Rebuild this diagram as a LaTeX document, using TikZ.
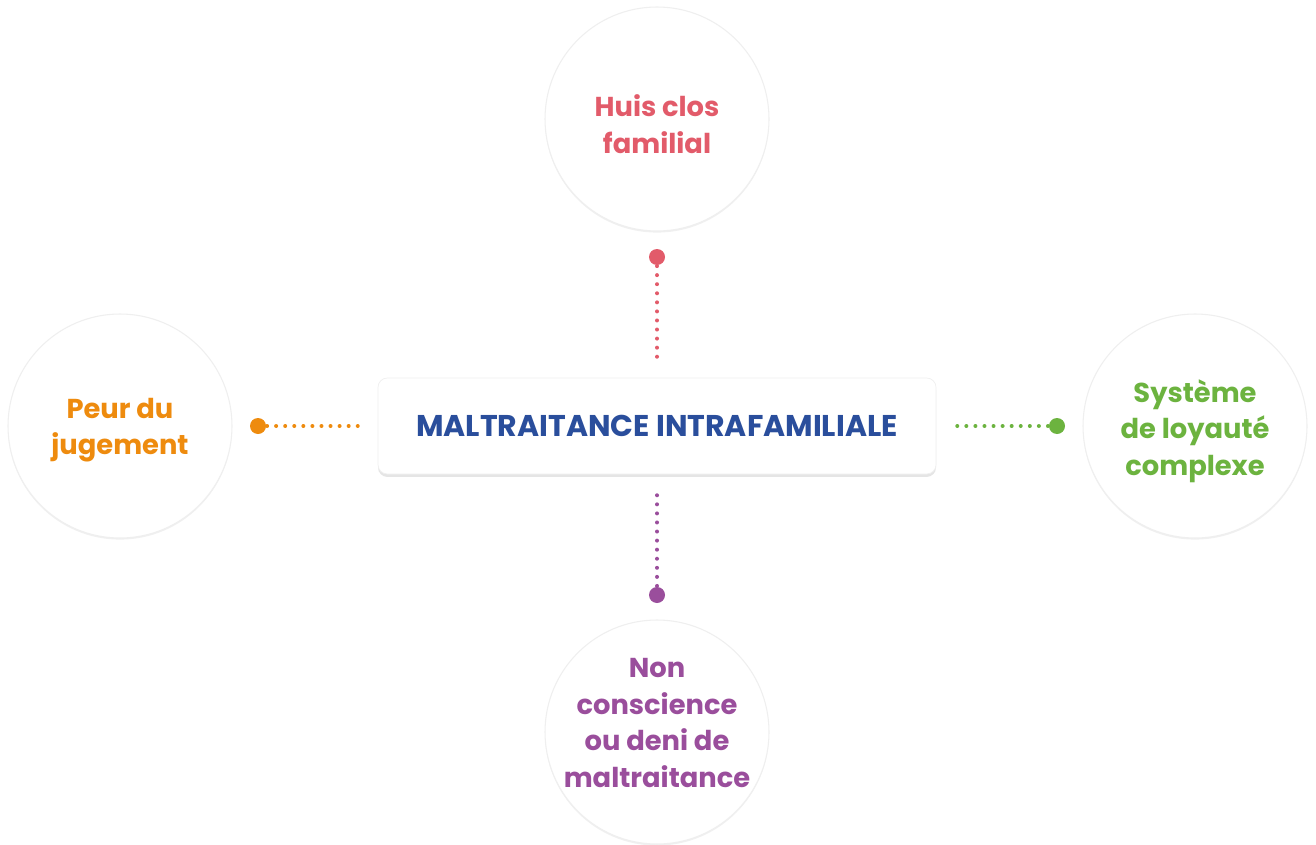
\documentclass[tikz,border=0pt]{standalone}
\usepackage{fontspec}
\setmainfont{Poppins}
\usetikzlibrary{shadows}
\definecolor{cred}{HTML}{E25B6A}
\definecolor{corange}{HTML}{EE8B0E}
\definecolor{cgreen}{HTML}{6CB33F}
\definecolor{cpurple}{HTML}{9A4E9C}
\definecolor{cblue}{HTML}{2A4E9C}
\definecolor{cedge}{HTML}{EFEFEF}
\tikzset{
  bubble/.style={circle, minimum size=224*0.75pt, inner sep=0pt, fill=white, draw=cedge, line width=0.8pt,
    drop shadow={shadow xshift=0pt, shadow yshift=-1.2pt, opacity=0.06, fill=black}},
  bubbletext/.style={align=center, inner sep=0pt, font=\bfseries\fontsize{20.5}{27.5}\selectfont},
  mainbox/.style={rectangle, rounded corners=7pt, fill=white, draw=cedge, line width=0.5pt,
    minimum width=558*0.75pt, minimum height=96*0.75pt,
    font=\bfseries\fontsize{22.5}{26}\selectfont, text=cblue,
    drop shadow={shadow xshift=0pt, shadow yshift=-2.2pt, opacity=0.10, fill=black}},
  enddot/.style={circle, minimum size=12pt, inner sep=0pt},
  dotline/.style={line width=3pt, line cap=round, dash pattern=on 0pt off 6.8pt},
}
\begin{document}
\begin{tikzpicture}[x=0.75pt, y=-0.75pt]
\useasboundingbox (0,0) rectangle (1316,845);
\node[mainbox] (main) at (657,426) {MALTRAITANCE INTRAFAMILIALE};
\node[bubble] (top) at (657,119) {};
\node[bubble] (left) at (120,426) {};
\node[bubble] (right) at (1195,426) {};
\node[bubble] (bottom) at (657,732) {};
\node[bubbletext, text=cred] (ttop) at (657,124) {Huis clos\\familial};
\node[bubbletext, text=corange] (tleft) at (120,430) {Peur du\\jugement};
\node[bubbletext, text=cgreen] (tright) at (1195,431) {Système\\de loyauté\\complexe};
\node[bubbletext, text=cpurple] (tbottom) at (657,723) {Non\\conscience\\ou deni de\\maltraitance};
% connectors
\node[enddot, fill=cred] (dtop) at (657,257) {};
\coordinate (etop) at (657,359);
\draw[dotline, cred] (dtop.center) -- (etop);
\node[enddot, fill=cpurple] (dbot) at (657,595) {};
\coordinate (ebot) at (657,493);
\draw[dotline, cpurple] (dbot.center) -- (ebot);
\node[enddot, fill=corange] (dleft) at (258,426) {};
\coordinate (eleft) at (360,426);
\draw[dotline, corange] (dleft.center) -- (eleft);
\node[enddot, fill=cgreen] (dright) at (1057,426) {};
\coordinate (eright) at (955,426);
\draw[dotline, cgreen] (dright.center) -- (eright);
\end{tikzpicture}
\end{document}
